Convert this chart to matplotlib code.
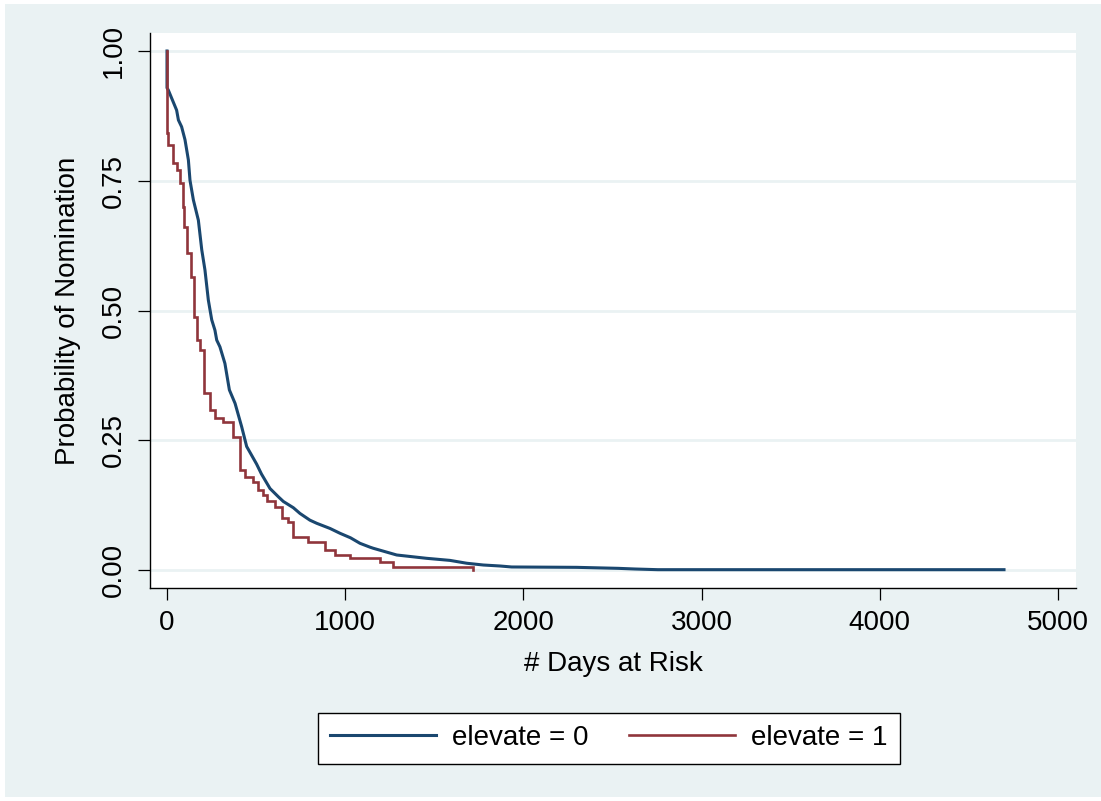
import matplotlib
matplotlib.use("Agg")
import matplotlib.pyplot as plt
from matplotlib.patches import Rectangle

# ---- data ----
t_elev0 = [0, 0, 7, 54, 64, 82, 101, 120, 129, 148, 176, 195, 213, 232, 251, 269,
           279, 297, 325, 350, 382, 419, 447, 503, 530, 578, 625, 653, 709, 746,
           802, 840, 915, 971, 1030, 1083, 1139, 1158, 1289, 1457, 1588, 1682,
           1775, 1869, 1934, 2299, 2531, 2626, 2755, 4697]
s_elev0 = [1.0, 0.929, 0.925, 0.886, 0.867, 0.854, 0.829, 0.790, 0.751, 0.713,
           0.674, 0.617, 0.578, 0.520, 0.482, 0.462, 0.443, 0.430, 0.398, 0.347,
           0.321, 0.276, 0.238, 0.204, 0.185, 0.157, 0.141, 0.132, 0.120, 0.109,
           0.096, 0.090, 0.080, 0.0707, 0.062, 0.0514, 0.044, 0.0418, 0.0289,
           0.0225, 0.0185, 0.013, 0.0096, 0.0077, 0.0058, 0.0051, 0.0032, 0.0019,
           0.0006, 0.0006]

t_elev1 = [0, 0, 8, 36, 54, 73, 90, 96, 115, 137, 153, 171, 185, 209, 244, 269,
           314, 372, 410, 438, 485, 513, 541, 559, 606, 643, 681, 709, 793, 887,
           943, 1027, 1195, 1270, 1715]
s_elev1 = [1.0, 0.842, 0.819, 0.784, 0.771, 0.745, 0.700, 0.661, 0.610, 0.565,
           0.488, 0.443, 0.424, 0.341, 0.308, 0.292, 0.286, 0.257, 0.193, 0.180,
           0.170, 0.154, 0.1445, 0.132, 0.122, 0.100, 0.093, 0.064, 0.0546,
           0.0385, 0.0289, 0.0225, 0.016, 0.0064, 0.0]

series_labels = ["elevate = 0", "elevate = 1"]
x_ticks = [0, 1000, 2000, 3000, 4000, 5000]
y_ticks = [0.0, 0.25, 0.5, 0.75, 1.0]
y_ticklabels = ["0.00", "0.25", "0.50", "0.75", "1.00"]
x_label = "# Days at Risk"
y_label = "Probability of Nomination"

# ---- style ----
plt.rcParams['font.family'] = ['Liberation Sans', 'DejaVu Sans']
BG = "#eaf2f3"
BLUE = "#1a476f"
RED = "#90353b"
W, H = 1101, 801

fig = plt.figure(figsize=(W / 100, H / 100), dpi=100)
fig.patch.set_facecolor("white")
fig.patches.append(Rectangle((5 / W, 4 / H), (W - 5) / W, (H - 8) / H,
                             transform=fig.transFigure, facecolor=BG,
                             edgecolor="none", zorder=-10))

ax = fig.add_axes([150 / W, 1 - 588 / H, (1076 - 150) / W, (588 - 33) / H])
ax.set_facecolor("white")

for y in y_ticks:
    ax.axhline(y, color=BG, lw=2.0, zorder=0)

# elevate = 0 has many tiny steps; drawn as a dense polyline
ax.plot(t_elev0, s_elev0, color=BLUE, lw=2.2,
        label=series_labels[0], zorder=3)
ax.plot(t_elev1, s_elev1, drawstyle="steps-post", color=RED, lw=1.9,
        label=series_labels[1], solid_joinstyle="miter", zorder=4)

ax.set_xlim(-95.4, 5101)
ax.set_ylim(-0.0347, 1.0347)

ax.set_xticks(x_ticks)
ax.set_yticks(y_ticks)
ax.set_yticklabels(y_ticklabels, rotation=90, va="center")
ax.tick_params(axis="both", direction="out", length=8.6, width=0.9,
               labelsize=20, colors="black")
ax.tick_params(axis="x", pad=7)
ax.tick_params(axis="y", pad=8)

for side in ["top", "right"]:
    ax.spines[side].set_visible(False)
for side in ["left", "bottom"]:
    ax.spines[side].set_color("black")
    ax.spines[side].set_linewidth(1.0)

fig.text(613 / W, 1 - 664 / H, x_label, fontsize=20, ha="center", va="center")
fig.text(68 / W, 1 - ((588 + 33) / 2) / H, y_label, fontsize=20,
         ha="center", va="center", rotation=90)

leg = fig.legend(loc="center", bbox_to_anchor=((319 + 899) / 2 / W, 1 - 738 / H),
                 ncol=2, fontsize=20, frameon=True, fancybox=False,
                 handlelength=3.8, handletextpad=0.6, columnspacing=1.45,
                 borderpad=0.45)
leg.get_frame().set_edgecolor("black")
leg.get_frame().set_linewidth(1.0)
leg.get_frame().set_facecolor("white")
leg.get_frame().set_alpha(1.0)

fig.savefig("out.png", dpi=100, facecolor=fig.get_facecolor())
